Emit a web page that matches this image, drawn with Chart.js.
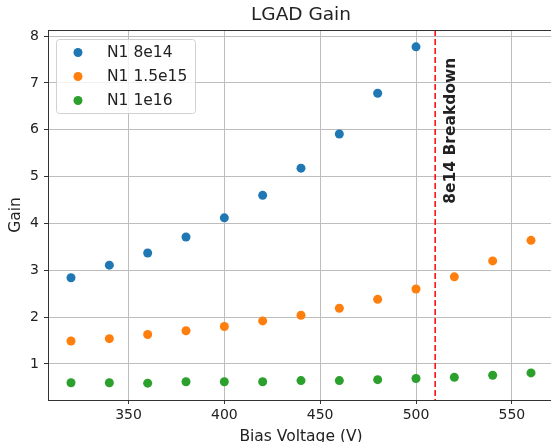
<!DOCTYPE html>
<html>
<head>
<meta charset="utf-8">
<script src="https://cdn.jsdelivr.net/npm/chart.js@4.4.1/dist/chart.umd.min.js"></script>
<style>
    body { margin: 0; background: #fff; }
    #wrap { width: 551px; height: 442px; overflow: hidden; position: relative; }
    canvas { display: block; }
</style>
</head>
<body>
<div id="wrap"><canvas id="gainChart" width="600" height="452"></canvas></div>
<script>
// Bias voltage (V) per measurement
const biasVoltage = [320, 340, 360, 380, 400, 420, 440, 460, 480, 500, 520, 540, 560];

// Gain per fluence
const gain8e14 = [2.84, 3.11, 3.37, 3.71, 4.12, 4.60, 5.18, 5.91, 6.78, 7.77];
const gain15e15 = [1.49, 1.54, 1.63, 1.71, 1.80, 1.92, 2.04, 2.19, 2.38, 2.60, 2.86, 3.20, 3.64];
const gain1e16 = [0.60, 0.60, 0.59, 0.62, 0.62, 0.62, 0.645, 0.645, 0.665, 0.69, 0.715, 0.76, 0.81];

const seriesLabels = ['N1 8e14', 'N1 1.5e15', 'N1 1e16'];
const seriesColors = ['#1f77b4', '#ff7f0e', '#2ca02c'];

const xTicks = [350, 400, 450, 500, 550];
const yTicks = [1, 2, 3, 4, 5, 6, 7, 8];

const breakdownVoltage = 510;
const breakdownLabel = '8e14 Breakdown';

const FONT = 'DejaVu Sans';
const TEXT = '#222';

const toPoints = (ys) => ys.map((y, i) => ({ x: biasVoltage[i], y: y }));

// Title, top spine, breakdown marker and legend box
const overlay = {
    id: 'overlay',
    afterDatasetsDraw(chart) {
        const { ctx, chartArea: a, scales: { x, y } } = chart;
        const px = x.getPixelForValue(breakdownVoltage);

        ctx.save();
        ctx.strokeStyle = '#ff0000';
        ctx.lineWidth = 1.5;
        ctx.setLineDash([6, 3]);
        ctx.beginPath();
        ctx.moveTo(px, a.top);
        ctx.lineTo(px, a.bottom);
        ctx.stroke();
        ctx.setLineDash([]);

        ctx.translate(px + 16, y.getPixelForValue(5.98));
        ctx.rotate(-Math.PI / 2);
        ctx.fillStyle = TEXT;
        ctx.font = 'bold 15.5px "' + FONT + '"';
        ctx.textAlign = 'center';
        ctx.textBaseline = 'middle';
        ctx.fillText(breakdownLabel, 0, 0);
        ctx.restore();
    },
    afterDraw(chart) {
        const { ctx, chartArea: a } = chart;
        ctx.save();

        // top spine
        ctx.strokeStyle = '#333';
        ctx.lineWidth = 1;
        ctx.beginPath();
        ctx.moveTo(a.left, a.top + 0.5);
        ctx.lineTo(a.right, a.top + 0.5);
        ctx.stroke();

        // title
        ctx.fillStyle = TEXT;
        ctx.font = '18.5px "' + FONT + '"';
        ctx.textAlign = 'center';
        ctx.textBaseline = 'middle';
        ctx.fillText('LGAD Gain', (a.left + a.right) / 2, 15);

        // legend
        const bx = a.left + 8, by = a.top + 9, bw = 139, bh = 74;
        ctx.beginPath();
        ctx.roundRect(bx + 0.5, by + 0.5, bw, bh, 3);
        ctx.fillStyle = 'rgba(255,255,255,0.8)';
        ctx.fill();
        ctx.strokeStyle = '#d0d0d0';
        ctx.stroke();

        ctx.font = '15.5px "' + FONT + '"';
        ctx.textAlign = 'left';
        chart.data.datasets.forEach((ds, i) => {
            const ly = by + 13.5 + i * 24;
            ctx.beginPath();
            ctx.arc(bx + 22, ly, 4.5, 0, Math.PI * 2);
            ctx.fillStyle = ds.backgroundColor;
            ctx.fill();
            ctx.fillStyle = TEXT;
            ctx.fillText(ds.label, bx + 51, ly);
        });
        ctx.restore();
    }
};

new Chart(document.getElementById('gainChart'), {
    type: 'scatter',
    data: {
        datasets: [gain8e14, gain15e15, gain1e16].map((ys, i) => ({
            label: seriesLabels[i],
            data: toPoints(ys),
            backgroundColor: seriesColors[i],
            borderColor: seriesColors[i],
            borderWidth: 0,
            pointRadius: 4.5
        }))
    },
    options: {
        responsive: false,
        animation: false,
        layout: { padding: { top: 30, right: 46, left: 0, bottom: 0 } },
        plugins: {
            legend: { display: false },
            title: { display: false },
            tooltip: { enabled: false }
        },
        scales: {
            x: {
                type: 'linear',
                min: 308,
                max: 572,
                afterBuildTicks: (s) => { s.ticks = xTicks.map(v => ({ value: v })); },
                afterFit: (s) => { s.height = 52; },
                grid: { color: '#bdbdbd', lineWidth: 1, tickLength: 4, tickColor: '#333' },
                border: { color: '#333', width: 1 },
                ticks: { color: TEXT, font: { family: FONT, size: 14 }, padding: 3, maxRotation: 0 },
                title: {
                    display: true,
                    text: 'Bias Voltage (V)',
                    color: TEXT,
                    font: { family: FONT, size: 15.5 },
                    padding: { top: 0, bottom: 6 }
                }
            },
            y: {
                type: 'linear',
                min: 0.231,
                max: 8.13,
                afterBuildTicks: (s) => { s.ticks = yTicks.map(v => ({ value: v })); },
                afterFit: (s) => { s.width = 48; },
                grid: { color: '#bdbdbd', lineWidth: 1, tickLength: 4, tickColor: '#333' },
                border: { color: '#333', width: 1 },
                ticks: { color: TEXT, font: { family: FONT, size: 14 }, padding: 5 },
                title: {
                    display: true,
                    text: 'Gain',
                    color: TEXT,
                    font: { family: FONT, size: 15.5 },
                    padding: { top: 6.5, bottom: 0 }
                }
            }
        }
    },
    plugins: [overlay]
});
</script>
</body>
</html>
